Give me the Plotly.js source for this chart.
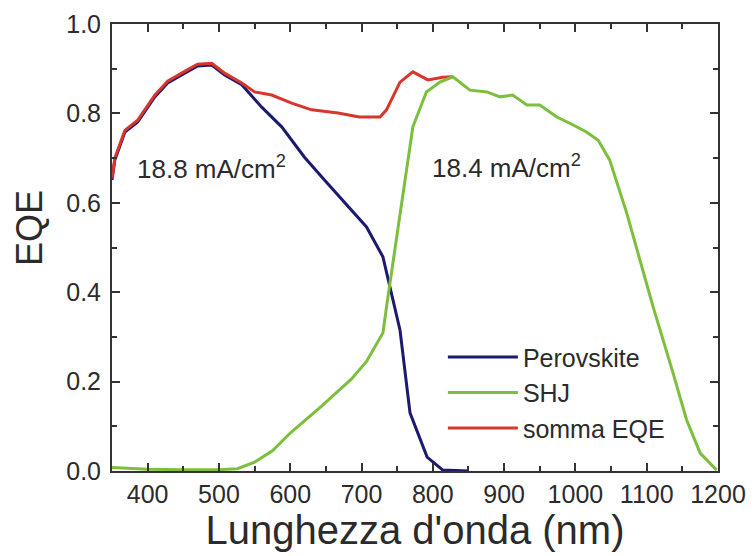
<!DOCTYPE html>
<html>
<head>
<meta charset="utf-8">
<script src="https://cdn.plot.ly/plotly-3.0.1.min.js"></script>
<style>html,body{margin:0;padding:0;background:#fff;}#chart{width:755px;height:556px;}</style>
</head>
<body>
<div id="chart"></div>
<script>
// Wavelength (nm) and EQE values
const perovWl  = [350, 354, 368, 386, 410, 428, 452, 470, 490, 508, 532, 560, 588, 620, 648, 676, 707, 730, 740, 754, 768, 792, 814, 850];
const perovEqe = [0.651, 0.696, 0.758, 0.781, 0.837, 0.868, 0.890, 0.906, 0.908, 0.886, 0.864, 0.814, 0.770, 0.702, 0.651, 0.600, 0.546, 0.479, 0.412, 0.315, 0.130, 0.031, 0.002, 0.0];

const shjWl  = [350, 400, 450, 500, 526, 550, 575, 600, 644, 686, 707, 730, 737, 749, 756, 763, 772, 791, 810, 828, 852, 876, 894, 912, 932, 950, 974, 997, 1016, 1032, 1048, 1072, 1090, 1109, 1137, 1156, 1175, 1198];
const shjEqe = [0.008, 0.004, 0.003, 0.003, 0.005, 0.020, 0.045, 0.085, 0.145, 0.206, 0.245, 0.309, 0.389, 0.517, 0.600, 0.670, 0.770, 0.848, 0.870, 0.882, 0.852, 0.848, 0.837, 0.841, 0.819, 0.819, 0.792, 0.774, 0.758, 0.740, 0.696, 0.577, 0.472, 0.367, 0.219, 0.114, 0.040, 0.002];

const sumWl  = [350, 354, 368, 386, 410, 428, 452, 470, 490, 508, 532, 550, 574, 602, 630, 667, 697, 726, 735, 754, 772, 793, 814, 828];
const sumEqe = [0.655, 0.700, 0.762, 0.785, 0.841, 0.872, 0.894, 0.910, 0.912, 0.890, 0.868, 0.848, 0.841, 0.823, 0.808, 0.801, 0.792, 0.792, 0.808, 0.870, 0.893, 0.875, 0.881, 0.882];

const seriesNames = ["Perovskite", "SHJ", "somma EQE"];
const annoTexts = ["18.8 mA/cm<sup>2</sup>", "18.4 mA/cm<sup>2</sup>"];
const xTitle = "Lunghezza d'onda (nm)";
const yTitle = "EQE";

const FONT = "Liberation Sans, Arial, sans-serif";
const TXT = "#2b2b2b";

const traces = [
  {x: perovWl, y: perovEqe, name: seriesNames[0], mode: "lines", line: {color: "#1c1a6e", width: 3}, legendrank: 1},
  {x: sumWl, y: sumEqe, name: seriesNames[2], mode: "lines", line: {color: "#d8362b", width: 3}, legendrank: 3},
  {x: shjWl, y: shjEqe, name: seriesNames[1], mode: "lines", line: {color: "#7cbf3c", width: 3}, legendrank: 2}
];

const axisCommon = {
  showgrid: false, zeroline: false, showline: true, linecolor: "#333", linewidth: 2,
  mirror: "ticks", ticks: "inside", ticklen: 8, tickwidth: 2, tickcolor: "#333",
  tickfont: {family: FONT, size: 25, color: TXT}
};

const layout = {
  width: 755, height: 556,
  margin: {l: 112, r: 37, t: 24, b: 85},
  paper_bgcolor: "#fff", plot_bgcolor: "#fff",
  showlegend: true,
  legend: {x: 0.546, y: 0.306, xanchor: "left", yanchor: "top", bgcolor: "rgba(0,0,0,0)",
           font: {family: FONT, size: 25, color: TXT}, itemwidth: 70, tracegroupgap: 0},
  xaxis: Object.assign({}, axisCommon, {
    range: [350, 1200], dtick: 100, tick0: 0,
    minor: {dtick: 50, ticks: "inside", ticklen: 5, tickwidth: 2, tickcolor: "#333"},
    title: {text: xTitle, font: {family: FONT, size: 40, color: TXT}, standoff: 4}
  }),
  yaxis: Object.assign({}, axisCommon, {
    range: [0, 1.0], dtick: 0.2, tickformat: ".1f",
    minor: {dtick: 0.1, ticks: "inside", ticklen: 5, tickwidth: 2, tickcolor: "#333"},
    ticklabelstandoff: 4
  }),
  annotations: [
    {x: 382, y: 0.678, xref: "x", yref: "y", text: annoTexts[0], showarrow: false, xanchor: "left", yanchor: "middle",
     font: {family: FONT, size: 26, color: TXT}},
    {x: 796, y: 0.682, xref: "x", yref: "y", text: annoTexts[1], showarrow: false, xanchor: "left", yanchor: "middle",
     font: {family: FONT, size: 26, color: TXT}},
    {x: -0.135, y: 0.544, xref: "paper", yref: "paper", text: yTitle, showarrow: false, textangle: -90,
     xanchor: "center", yanchor: "middle", font: {family: FONT, size: 36, color: TXT}}
  ]
};

Plotly.newPlot("chart", traces, layout, {displayModeBar: false, staticPlot: true});
</script>
</body>
</html>
